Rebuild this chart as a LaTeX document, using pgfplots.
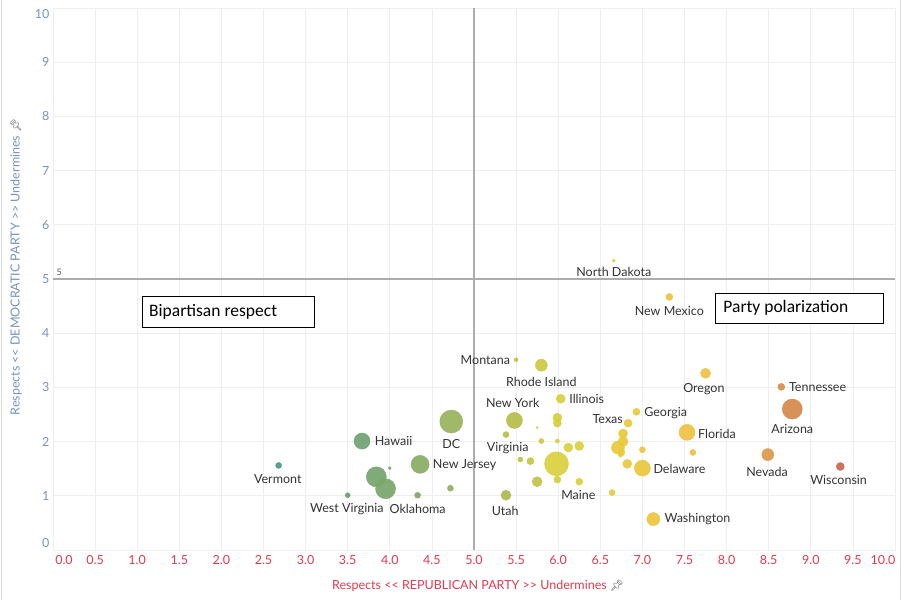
\documentclass[border=0pt]{standalone}
\usepackage{fontspec}
\setmainfont{Lato}
\newfontfamily\boxfont{Carlito}
\newfontfamily\emojifont{Noto Emoji}
\usepackage{pgfplots}
\pgfplotsset{compat=1.18}
\usepackage{pgfplotstable}

\definecolor{xred}{RGB}{226,58,80}
\definecolor{yblue}{RGB}{118,148,196}
\definecolor{gridc}{RGB}{238,238,238}
\definecolor{refc}{RGB}{172,172,172}
\definecolor{lab}{RGB}{51,51,51}

% x y size colourmeta
\pgfplotstableread{
x y s c
5.98 1.59 12 6.05
4.73 2.37 11.5 4.73
8.78 2.60 10 8.78
3.84 1.35 10 3.84
3.95 1.13 10 3.95
4.36 1.58 9 4.36
5.48 2.39 8 5.35
7.00 1.51 8 7.00
7.53 2.17 8 7.53
3.67 2.01 8 3.67
6.71 1.89 6.5 6.71
7.13 0.57 6.5 7.13
5.80 3.41 6 5.80
8.49 1.76 6 8.49
6.77 2.00 5 6.77
5.75 1.26 5 5.60
5.38 1.01 5 5.15
7.75 3.26 5 7.75
6.03 2.79 4.5 6.03
5.99 2.44 4.5 5.99
6.12 1.89 4.5 6.12
6.25 1.92 4.5 6.25
6.77 2.15 4.5 6.77
6.82 1.59 4.5 6.82
9.35 1.54 4 9.35
5.99 2.34 4 5.99
6.83 2.34 4 6.83
6.75 1.80 3.5 6.75
7.32 4.67 3.5 7.32
5.67 1.64 3.5 5.67
5.99 1.30 3.5 5.99
6.25 1.26 3.5 6.25
6.93 2.55 3.5 6.93
8.65 3.01 3.5 8.65
6.64 1.06 3 6.64
7.00 1.85 3 7.00
7.60 1.80 3 7.60
2.68 1.56 3 2.60
4.33 1.01 3 4.20
4.72 1.14 3 4.60
5.38 2.13 3 5.38
5.80 2.01 2.5 5.80
5.55 1.67 2.5 5.55
3.50 1.01 2.5 3.50
6.74 1.75 2 6.74
5.99 2.01 2 5.99
5.50 3.51 2 5.60
6.66 5.34 1.5 6.66
4.00 1.51 1.5 4.00
5.75 2.26 1 5.75
}\states

\begin{document}
\begin{tikzpicture}
\useasboundingbox (0,0) rectangle (902pt,600pt);
\fill[white] (0,0) rectangle (902pt,600pt);
\draw[gray!30, line width=1pt] (1.5pt,0) -- (1.5pt,600pt);
\draw[gray!30, line width=1pt] (900.5pt,0) -- (900.5pt,600pt);
\begin{axis}[
  at={(53pt,50pt)}, anchor=south west,
  scale only axis, width=842pt, height=542pt,
  xmin=0, xmax=10, ymin=0, ymax=10,
  clip=false,
  xtick={0,0.5,1,1.5,2,2.5,3,3.5,4,4.5,5,5.5,6,6.5,7,7.5,8,8.5,9,9.5,10},
  xticklabels={\hspace*{22pt}0.0,0.5,1.0,1.5,2.0,2.5,3.0,3.5,4.0,4.5,5.0,5.5,6.0,6.5,7.0,7.5,8.0,8.5,9.0,9.5,10.0\hspace*{24pt}},
  ytick={0,1,2,3,4,5,6,7,8,9,10},
  yticklabels={\raisebox{2.5pt}[0pt][0pt]{0},1,2,3,4,5,6,7,8,9,\raisebox{-11pt}[0pt][0pt]{10}},
  grid=major,
  major grid style={draw=gridc, line width=0.8pt},
  axis line style={draw=gridc, line width=0.8pt},
  tick style={draw=none},
  /pgf/number format/assume math mode=true,
  xticklabel style={text=xred, font=\fontsize{12.5}{13}\selectfont, yshift=-2pt},
  yticklabel style={text=yblue, font=\fontsize{12.5}{13}\selectfont},
  colormap={tab}{rgb255(2.5cm)=(74,152,136); rgb255(3.7cm)=(112,162,112); rgb255(4.7cm)=(150,178,92); rgb255(5.4cm)=(186,190,72); rgb255(6.1cm)=(218,210,60); rgb255(6.9cm)=(236,200,58); rgb255(7.8cm)=(240,190,70); rgb255(8.6cm)=(218,146,76); rgb255(9.4cm)=(200,100,82)},
  point meta min=2.5, point meta max=9.4,
]
% reference lines
\addplot[refc, line width=1.5pt, forget plot] coordinates {(0,5) (10,5)};
\addplot[refc, line width=1.5pt, forget plot] coordinates {(5,0) (5,10)};
\node[anchor=south west, inner sep=1pt, text=lab!80, font=\fontsize{9}{9}\selectfont] at (axis cs:0.03,5.04) {5};

\addplot[scatter, only marks, mark=*, scatter src=explicit,
  fill opacity=0.92,
  scatter/use mapped color={draw=mapped color, fill=mapped color},
  visualization depends on={\thisrow{s} \as \msz},
  scatter/@pre marker code/.append style={/tikz/mark size=\msz}]
  table[x=x, y=y, meta=c]{\states};

% boxes
\draw[black, line width=1.1pt, fill=white] (axis cs:1.06,4.68) rectangle (axis cs:3.11,4.10);
\node[anchor=west, inner sep=0, font=\boxfont\fontsize{17.5}{17.5}\selectfont] at (axis cs:1.14,4.39) {Bipartisan respect};
\draw[black, line width=1.1pt, fill=white] (axis cs:7.87,4.74) rectangle (axis cs:9.86,4.18);
\node[anchor=west, inner sep=0, font=\boxfont\fontsize{17.5}{17.5}\selectfont] at (axis cs:7.96,4.46) {Party polarization};

% labels
\tikzset{lbl/.style={inner sep=0, text=lab, font=\fontsize{12.5}{13}\selectfont}}
\node[lbl] at (axis cs:6.66,5.13) {North Dakota};
\node[lbl] at (axis cs:7.32,4.41) {New Mexico};
\node[lbl, anchor=east] at (axis cs:5.43,3.51) {Montana};
\node[lbl] at (axis cs:5.80,3.10) {Rhode Island};
\node[lbl, anchor=west] at (axis cs:6.13,2.79) {Illinois};
\node[lbl] at (axis cs:5.46,2.71) {New York};
\node[lbl, anchor=west] at (axis cs:7.02,2.53) {Georgia};
\node[lbl, anchor=east] at (axis cs:6.77,2.42) {Texas};
\node[lbl] at (axis cs:7.73,2.97) {Oregon};
\node[lbl, anchor=west] at (axis cs:8.74,3.01) {Tennessee};
\node[lbl] at (axis cs:8.78,2.23) {Arizona};
\node[lbl, anchor=west] at (axis cs:7.66,2.14) {Florida};
\node[lbl] at (axis cs:8.48,1.44) {Nevada};
\node[lbl] at (axis cs:9.33,1.29) {Wisconsin};
\node[lbl, anchor=west] at (axis cs:7.13,1.49) {Delaware};
\node[lbl, anchor=west] at (axis cs:7.26,0.57) {Washington};
\node[lbl] at (axis cs:6.24,1.01) {Maine};
\node[lbl] at (axis cs:5.37,0.72) {Utah};
\node[lbl] at (axis cs:5.40,1.88) {Virginia};
\node[lbl] at (axis cs:4.73,1.96) {DC};
\node[lbl, anchor=west] at (axis cs:3.82,2.01) {Hawaii};
\node[lbl, anchor=west] at (axis cs:4.51,1.57) {New Jersey};
\node[lbl] at (axis cs:2.67,1.31) {Vermont};
\node[lbl] at (axis cs:3.49,0.76) {West Virginia};
\node[lbl] at (axis cs:4.33,0.76) {Oklahoma};
\end{axis}
% axis titles
\node[text=xred, font=\fontsize{12.5}{13}\selectfont, inner sep=0] at (478pt,14pt)
  {Respects <\kern0pt< REPUBLICAN PARTY >\kern0pt> Undermines \textcolor{gray!70!black}{\emojifont\fontsize{11}{11}\selectfont 📌}};
\node[text=yblue, font=\fontsize{12.5}{13}\selectfont, inner sep=0, rotate=90] at (16pt,333pt)
  {Respects <\kern0pt< DEMOCRATIC PARTY >\kern0pt> Undermines \textcolor{gray!70!black}{\emojifont\fontsize{11}{11}\selectfont 📌}};
\end{tikzpicture}
\end{document}
